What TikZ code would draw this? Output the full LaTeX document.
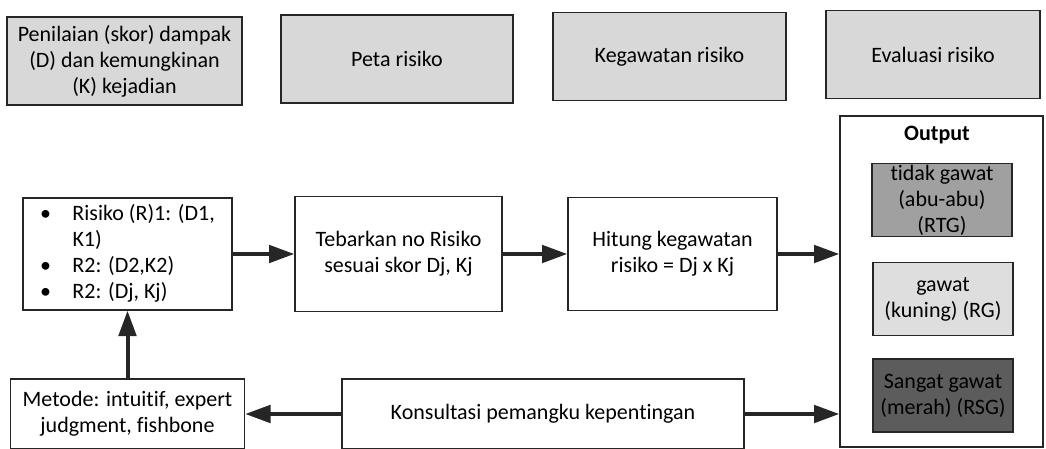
\documentclass[tikz,border=0pt]{standalone}
\usepackage{fontspec}
\setmainfont{Carlito}[Ligatures=NoCommon]
\usepackage{tikz}
\usetikzlibrary{positioning,arrows.meta}
\definecolor{headgray}{RGB}{216,216,216}
\definecolor{rtggray}{RGB}{160,160,160}
\definecolor{rggray}{RGB}{222,222,222}
\definecolor{rsggray}{RGB}{92,92,92}

\begin{document}
\begin{tikzpicture}[x=0.75pt, y=-0.75pt, font=\fontsize{16.5}{19.5}\selectfont,
    >={Triangle[length=19pt, width=13pt]},
    head/.style={draw=black!85, fill=headgray, line width=1.3pt, align=center,
                 minimum height=66pt, inner sep=2pt},
    stepbox/.style={draw=black!85, fill=white, line width=1pt, align=center,
                 minimum height=85pt, inner sep=2pt},
    level/.style={draw=black!85, line width=1pt, align=center, inner sep=0pt,
                 minimum width=105pt, minimum height=54.75pt},
    flow/.style={->, line width=3pt, black!85}]
  \useasboundingbox (0,0) rectangle (1046,449);
  % top row
  \node[head, minimum width=176pt] (penilaian) at (124.5,61)
      {Penilaian (skor) dampak\\ (D) dan kemungkinan\\ (K) kejadian};
  \node[head, minimum width=174pt] (peta) at (397,59) {Peta risiko};
  \node[head, minimum width=175pt] (kegawatan) at (669.5,56.5) {Kegawatan risiko};
  \node[head, minimum width=161pt] (evaluasi) at (933,54.5) {Evaluasi risiko};
  % middle row
  \node[stepbox, minimum width=156.75pt, minimum height=84pt] (daftar) at (127.5,254)
      {\begin{tabular}{@{}c@{\hspace{16pt}}l@{}}
        \textbullet & Risiko (R)1: (D1,\\
                    & K1)\\
        \textbullet & R2: (D2,K2)\\
        \textbullet & R2: (Dj, Kj)
       \end{tabular}};
  \node[stepbox, minimum width=155.25pt, minimum height=86.25pt] (tebar) at (398.5,254)
      {Tebarkan no Risiko\\ sesuai skor Dj, Kj};
  \node[stepbox, minimum width=156.75pt, minimum height=84.75pt] (hitung) at (672.5,254)
      {Hitung kegawatan\\ risiko = Dj x Kj};
  % output
  \node[draw=black!85, line width=1pt, minimum width=152.25pt, minimum height=248.25pt]
      (output) at (941.5,281.5) {};
  \node[font=\fontsize{16.5}{19.5}\selectfont\bfseries] (outlabel) at (937,135) {Output};
  \node[level, fill=rtggray] (rtg) at (942,200) {tidak gawat\\ (abu-abu)\\ (RTG)};
  \node[level, fill=rggray] (rg) at (943,299) {gawat\\ (kuning) (RG)};
  \node[level, fill=rsggray, text=black] (rsg) at (943,395.5)
      {Sangat gawat\\ (merah) (RSG)};
  % bottom row
  \node[stepbox, minimum width=175.5pt, minimum height=52.5pt] (metode) at (127.5,414)
      {Metode: intuitif, expert\\ judgment, fishbone};
  \node[stepbox, minimum width=301.5pt, minimum height=52.5pt] (konsultasi) at (543,414)
      {Konsultasi pemangku kepentingan};
  % arrows
  \draw[flow] (daftar) -- (tebar);
  \draw[flow] (tebar) -- (hitung);
  \draw[flow] (hitung.east) -- (hitung.east -| output.west);
  \draw[flow] (metode) -- (daftar);
  \draw[flow] (konsultasi) -- (metode);
  \draw[flow] (konsultasi.east) -- (konsultasi.east -| output.west);
\end{tikzpicture}
\end{document}
